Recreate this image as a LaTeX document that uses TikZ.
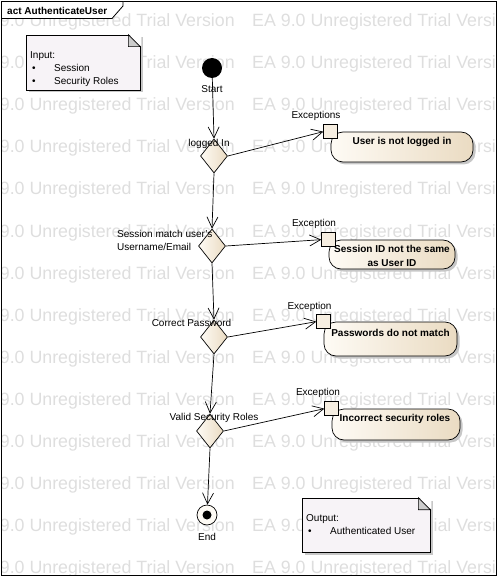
\documentclass[tikz,border=0pt]{standalone}
\usepackage{fontspec}
\setmainfont{Liberation Sans}
\usetikzlibrary{shapes.geometric,shadows,arrows.meta}

\definecolor{actlight}{RGB}{254,251,245}
\definecolor{actdark}{RGB}{234,219,194}
\definecolor{notefill}{RGB}{247,243,247}
\definecolor{pinfill}{RGB}{246,238,225}
\definecolor{wmgrey}{RGB}{222,222,222}

\begin{document}
\begin{tikzpicture}[x=1pt,y=-1pt,every node/.style={font=\fontsize{10}{12}\selectfont},
  wmark/.style={anchor=base west,inner sep=0,text=wmgrey,font=\fontsize{17.8}{20}\selectfont},
  action/.style={draw,line width=0.7pt,rounded corners=12pt,left color=actlight,right color=actdark,
    drop shadow={shadow xshift=2.5pt,shadow yshift=-2.5pt,fill=black!22,opacity=1}},
  acttext/.style={font=\fontsize{10}{14}\selectfont\bfseries,align=center,inner sep=0},
  decision/.style={draw,line width=0.7pt,diamond,inner sep=0,minimum width=27pt,minimum height=34pt,left color=actlight,right color=actdark},
  pinbox/.style={draw,line width=0.7pt,fill=pinfill,minimum size=14pt,inner sep=0},
  note/.style={draw,line width=0.7pt,fill=notefill,inner sep=0,
    drop shadow={shadow xshift=2.5pt,shadow yshift=-2.5pt,fill=black!22,opacity=1}},
  notetext/.style={anchor=north west,align=left,inner sep=0,font=\fontsize{10}{13}\selectfont},
  lbl/.style={inner sep=0},
  flow/.style={-{Straight Barb[length=11pt,width=11pt]},line width=0.7pt}]
\useasboundingbox (0,0) rectangle (498,577);
% watermark
\begin{scope}
\clip (1.5,1.5) rectangle (496.5,575.5);
\foreach \r in {0,...,13}
  \foreach \c in {0,1}
    \node[wmark] (wm-\r-\c) at (-29+281*\c,27+42*\r) {EA 9.0 Unregistered Trial Version};
\end{scope}
% frame
\draw[line width=0.8pt] (1.5,1.5) rectangle (496.5,575.5);
\draw[line width=0.8pt,fill=white] (1.5,1.5) -- (123,1.5) -- (123,6) -- (112,18.5) -- (1.5,18.5) -- cycle;
\node[anchor=west,inner sep=0,font=\fontsize{10}{12}\selectfont\bfseries] (title) at (7,10.5) {act AuthenticateUser};
% notes
\node[note,minimum width=114pt,minimum height=55pt] (inNote) at (83,62.5) {};
\fill[white] ([xshift=-12pt,yshift=1pt]inNote.north east) -- ([xshift=1pt,yshift=1pt]inNote.north east) -- ([xshift=1pt,yshift=-12pt]inNote.north east) -- cycle;
\filldraw[line width=0.7pt,fill=black!20] ([xshift=-12pt]inNote.north east) -- ([xshift=-12pt,yshift=-12pt]inNote.north east) -- ([yshift=-12pt]inNote.north east) -- cycle;
\node[notetext] (inText) at (30,51.4) {Input:\\\makebox[24pt][l]{\hspace{2pt}•}Session\\\makebox[24pt][l]{\hspace{2pt}•}Security Roles};
\node[note,minimum width=128pt,minimum height=54pt] (outNote) at (366,525) {};
\fill[white] ([xshift=-12pt,yshift=1pt]outNote.north east) -- ([xshift=1pt,yshift=1pt]outNote.north east) -- ([xshift=1pt,yshift=-12pt]outNote.north east) -- cycle;
\filldraw[line width=0.7pt,fill=black!20] ([xshift=-12pt]outNote.north east) -- ([xshift=-12pt,yshift=-12pt]outNote.north east) -- ([yshift=-12pt]outNote.north east) -- cycle;
\node[notetext] (outText) at (306,514.4) {Output:\\\makebox[24pt][l]{\hspace{2pt}•}Authenticated User};
% start, decisions, end
\node[circle,fill=black,minimum size=20pt,inner sep=0] (start) at (212,68) {};
\node[lbl] (startLbl) at (212,89) {Start};
\node[decision] (d1) at (214,156) {};
\node[decision] (d2) at (212,246) {};
\node[decision] (d3) at (214,337) {};
\node[decision] (d4) at (210,431) {};
\node[circle,draw,line width=0.7pt,fill=actlight,minimum size=20pt,inner sep=0] (final) at (207,515) {};
\node[circle,fill=black,minimum size=9pt,inner sep=0] (finalDot) at (final) {};
\node[lbl] (finalLbl) at (207,537) {End};
% actions
\node[action,minimum width=142pt,minimum height=30pt] (a1) at (402,147) {};
\node[acttext] (a1Txt) at (402,142) {User is not logged in};
\node[action,minimum width=126pt,minimum height=29pt] (a2) at (392,254.5) {};
\node[acttext] (a2Txt) at (392,256) {Session ID not the same\\as User ID};
\node[action,minimum width=133pt,minimum height=34pt] (a3) at (390.5,339) {};
\node[acttext] (a3Txt) at (390.5,333) {Passwords do not match};
\node[action,minimum width=128pt,minimum height=31pt] (a4) at (396,424.5) {};
\node[acttext] (a4Txt) at (395,419) {Incorrect security roles};
\foreach \i in {1,...,4}
  \node[pinbox] (p\i) at (a\i.north west) {};
% flows
\draw[flow] (start) -- (d1.north);
\draw[flow] (d1.south) -- (d2.north);
\draw[flow] (d2.south) -- (d3.north);
\draw[flow] (d3.south) -- (d4.north);
\draw[flow] (d4.south) -- (final);
\foreach \i in {1,...,4}
  \draw[flow] (d\i.east) -- (p\i.west);
% labels
\node[lbl] (d1Lbl) at (209,144) {logged In};
\node[lbl,anchor=west,align=left,font=\fontsize{10}{13}\selectfont] (d2Lbl) at (117,240.5) {Session match user's\\Username/Email};
\node[lbl] (d3Lbl) at (191.5,323) {Correct Password};
\node[lbl] (d4Lbl) at (214,418) {Valid Security Roles};
\node[lbl] (e1Lbl) at (316,116) {Exceptions};
\node[lbl] (e2Lbl) at (314,224) {Exception};
\node[lbl] (e3Lbl) at (309.5,307) {Exception};
\node[lbl] (e4Lbl) at (318,393) {Exception};
\end{tikzpicture}
\end{document}
